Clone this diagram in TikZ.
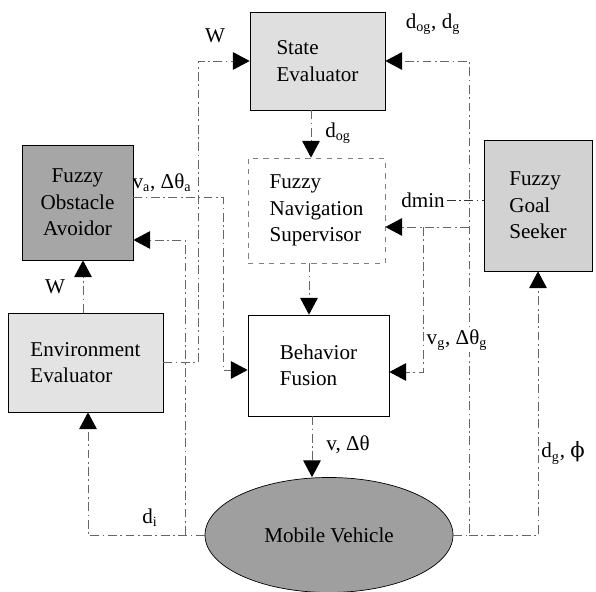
\documentclass[tikz,border=0pt]{standalone}
\usepackage{fontspec}
\setmainfont{Liberation Serif}
\newfontfamily\symfont{DejaVu Serif}
\usetikzlibrary{arrows.meta,shapes.geometric}

\begin{document}
\begin{tikzpicture}[
        box/.style={draw, thin, align=left, font=\fontsize{12}{15}\selectfont},
        lbl/.style={font=\fontsize{12}{14}\selectfont, inner sep=1pt},
        flow/.style={draw=black!60, line width=0.5pt, dash pattern=on 5pt off 2pt on 1pt off 2pt},
        tip/.style={-{Triangle[length=9.5pt,width=10pt,color=black]}}
    ]
    \useasboundingbox (0,0) rectangle (11.92,11.84);

    % Blocks
    \node[box, fill=gray!25, minimum width=2.7cm, minimum height=1.96cm] (se) at (6.35,10.62) {State\\Evaluator};
    \node[box, fill=gray!70, align=center, minimum width=2.22cm, minimum height=2.3cm] (oa) at (1.55,7.79) {Fuzzy\\Obstacle\\Avoidor};
    \node[box, draw=black!50, dashed, minimum width=2.74cm, minimum height=2.1cm] (ns) at (6.33,7.63) {Fuzzy\\Navigation\\Supervisor};
    \node[box, fill=gray!35, minimum width=2.16cm, minimum height=2.62cm] (gs) at (10.76,7.73) {Fuzzy\\Goal\\Seeker};
    \node[box, fill=gray!22, minimum width=3.1cm, minimum height=1.98cm] (ee) at (1.71,4.59) {Environment\\Evaluator};
    \node[box, minimum width=2.82cm, minimum height=2.02cm] (bf) at (6.37,4.53) {Behavior\\Fusion};
    \node[ellipse, draw, fill=gray!75, inner sep=0pt, minimum width=4.96cm, minimum height=2.3cm,
        font=\fontsize{12}{15}\selectfont] (mv) at (6.58,1.14) {Mobile Vehicle};

    % Junction points
    \coordinate (wx) at (3.96,0);
    \coordinate (vax) at (4.46,7.9);
    \coordinate (dib) at (3.7,7.04);
    \coordinate (oaw) at (1.66,0);
    \coordinate (fbx) at (9.38,0);
    \coordinate (fbn) at (9.38,7.3);
    \coordinate (vgx) at (8.46,7.3);

    % W to state evaluator
    \draw[flow, tip] (ee.east) -| (wx |- se.west) -- (se.west);
    \node[lbl] (wse) at (4.3,11.12) {W};

    % Obstacle avoidor output
    \draw[flow, tip] (oa.east |- vax) -- (vax) |- ([yshift=-0.09cm]bf.west);
    \node[lbl] (va) at (3.24,8.18) {v\textsubscript{a}, Δθ\textsubscript{a}};

    % Distances from the vehicle, left side
    \draw[flow, tip] (mv.west) -| ([xshift=0.05cm]ee.south);
    \draw[flow, tip] (dib |- mv.west) -- (dib) -- (oa.east |- dib);
    \node[lbl] (di) at (3.0,1.48) {d\textsubscript{i}};

    % W to obstacle avoidor
    \draw[flow, tip] (ee.north -| oaw) -- (oa.south -| oaw);
    \node[lbl] (woa) at (1.1,6.1) {W};

    % Main chain
    \draw[flow, tip] ([xshift=-0.13cm]se.south) -- ([xshift=-0.13cm]se.south |- ns.north);
    \node[lbl] (dog) at (6.76,9.18) {d\textsubscript{og}};
    \draw[flow, tip] ([xshift=-0.15cm]ns.south) -- ([xshift=-0.15cm]ns.south |- bf.north);
    \draw[flow, tip] ([xshift=-0.13cm]bf.south) -- ([xshift=-0.13cm]bf.south |- mv.north);
    \node[lbl] (vth) at (6.96,2.94) {v, Δθ};

    % Feedback, right side
    \draw[flow, tip] (mv.east) -- (fbx |- mv.east) -- (fbx |- se.east) -- (se.east);
    \node[lbl] (dogg) at (8.66,11.36) {d\textsubscript{og}, d\textsubscript{g}};
    \draw[flow, tip] (fbn) -- (ns.east |- fbn);

    % Goal seeker output
    \draw[flow, tip] (vgx) |- ([yshift=-0.13cm]bf.east);
    \node[lbl, fill=white] (vg) at (9.14,5.04) {v\textsubscript{g}, Δθ\textsubscript{g}};
    \node[lbl] (dmin) at (8.46,7.84) {dmin};
    \draw[flow, draw=black!80] (dmin.east) -- (dmin.east -| gs.west);

    % Goal distance to goal seeker
    \draw[flow, tip] (fbx |- mv.east) -| (gs.south);
    \node[lbl] (dgp) at (11.26,2.78) {d\textsubscript{g}, {\symfont ϕ}};

\end{tikzpicture}
\end{document}
